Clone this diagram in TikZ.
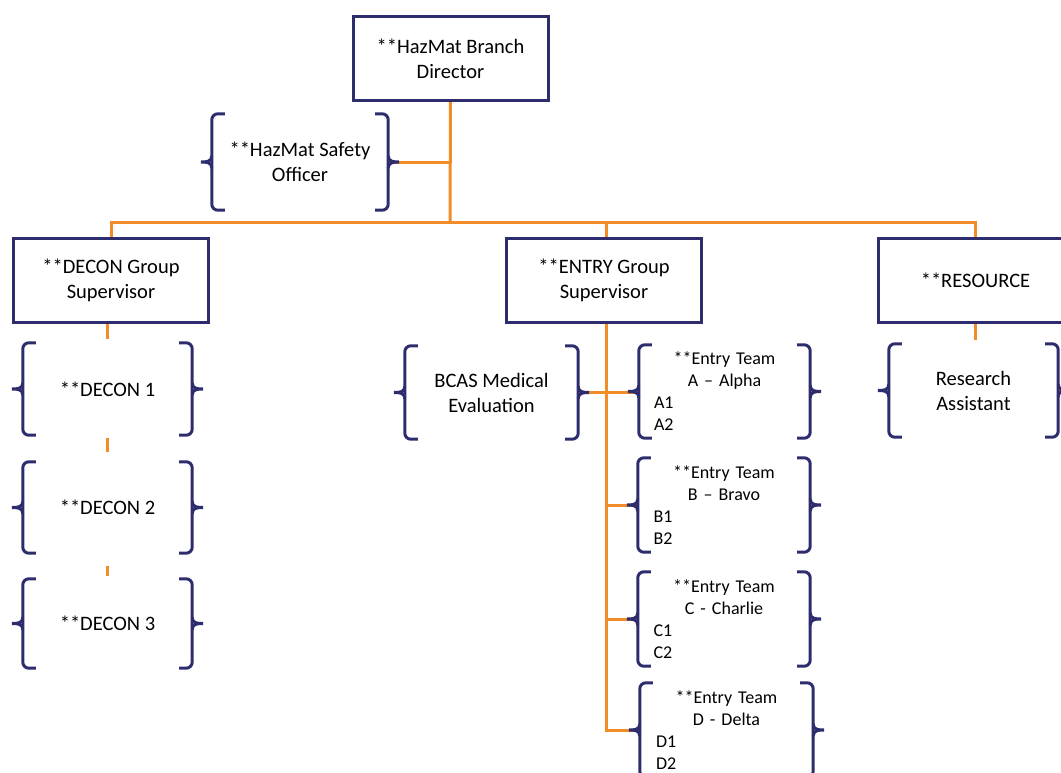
\documentclass[tikz,border=0pt]{standalone}
\usepackage{fontspec}
\setmainfont{Carlito}
\usetikzlibrary{calc,backgrounds}
\definecolor{navy}{RGB}{45,45,110}
\definecolor{org}{RGB}{241,140,40}
\tikzset{
  bigtxt/.style={font=\fontsize{20.5}{25}\selectfont},
  smtxt/.style={font=\fontsize{18}{22}\selectfont},
  ubox/.style={draw=navy, line width=3pt, fill=white, minimum width=195pt, minimum height=84pt, align=center, inner sep=0pt, bigtxt},
  brk/.style={inner sep=0pt, align=center, bigtxt},
  tbrk/.style={inner sep=0pt, smtxt, text width=141pt},
  bline/.style={draw=navy, line width=3pt},
  oline/.style={draw=org, line width=3pt},
}
\begin{document}
\begin{tikzpicture}[x=1pt,y=-1pt]
\useasboundingbox (0,0) rectangle (1061,772);
\clip (0,0) rectangle (1061,772);
\node[ubox] (dir) at (450.5,58.5) {**HazMat Branch\\Director};
\node[ubox] (dsup) at (111,280.5) {**DECON Group\\Supervisor};
\node[ubox] (esup) at (604,280.5) {**ENTRY Group\\Supervisor};
\node[ubox] (res) at (975.5,280.5) {**RESOURCE};
\node[brk, minimum width=176pt, minimum height=96pt] (so) at (300,162) {**HazMat Safety\\Officer};
\node[brk, minimum width=169pt, minimum height=92pt] (d1) at (107.5,389) {**DECON 1};
\node[brk, minimum width=169pt, minimum height=91pt] (d2) at (107.5,507.5) {**DECON 2};
\node[brk, minimum width=169pt, minimum height=89pt] (d3) at (107.5,623.5) {**DECON 3};
\node[brk, minimum width=173pt, minimum height=93pt] (bcas) at (491.5,392.5) {BCAS Medical\\Evaluation};
\node[brk, minimum width=169pt, minimum height=93pt] (ra) at (973.5,390.5) {Research\\Assistant};
\node[tbrk, minimum width=171pt, minimum height=93pt] (ta) at (724.5,391.5) {\centering **Entry Team\\A – Alpha\par\raggedright A1\\A2\par};
\node[tbrk, minimum width=172pt, minimum height=94pt] (tb) at (724,505) {\centering **Entry Team\\B – Bravo\par\raggedright B1\\B2\par};
\node[tbrk, minimum width=172pt, minimum height=94pt] (tc) at (724,619) {\centering **Entry Team\\C - Charlie\par\raggedright C1\\C2\par};
\node[tbrk, minimum width=173pt, minimum height=94pt] (td) at (726.5,730) {\centering **Entry Team\\D - Delta\par\raggedright D1\\D2\par};
\begin{scope}[on background layer]
  \coordinate (bus) at (450,222);
  \coordinate (ev) at ($(esup.south)+(2.5,0)$);
  \draw[oline] (dir.south) -- (bus);
  \draw[oline] (dsup.north) -- (dsup.north |- bus) -- (res.north |- bus) -- (res.north);
  \draw[oline] (ev |- esup.north) -- (ev |- bus);
  \draw[oline] (so.east) -- (so.east -| bus);
  \draw[oline] (d1.north |- dsup.south) -- ([yshift=4pt]d1.north);
  \draw[oline] ([yshift=-3pt]d1.south) -- ([yshift=10pt]d2.north);
  \draw[oline] ([yshift=-13pt]d2.south) -- ([yshift=3pt]d3.north);
  \draw[oline] (res.south) -- ++(0,16);
  \draw[oline] (ev) |- (td.west);
  \draw[oline] (bcas.east) -- (bcas.east -| ta.west);
  \draw[oline] (ev |- tb.west) -- (tb.west);
  \draw[oline] (ev |- tc.west) -- (tc.west);
\end{scope}
\foreach \n in {so,d1,d2,d3,bcas,ra,ta,tb,tc,td}{
  \draw[bline, rounded corners=6pt] ([xshift=13pt]\n.north west) -- (\n.north west) -- (\n.south west) -- ([xshift=13pt]\n.south west);
  \draw[bline] ([yshift=6pt]\n.west) .. controls (\n.west) and ([xshift=-6pt]\n.west) .. ([xshift=-11pt]\n.west)
               .. controls ([xshift=-6pt]\n.west) and (\n.west) .. ([yshift=-6pt]\n.west);
  \draw[bline, rounded corners=6pt] ([xshift=-13pt]\n.north east) -- (\n.north east) -- (\n.south east) -- ([xshift=-13pt]\n.south east);
  \draw[bline] ([yshift=6pt]\n.east) .. controls (\n.east) and ([xshift=6pt]\n.east) .. ([xshift=11pt]\n.east)
               .. controls ([xshift=6pt]\n.east) and (\n.east) .. ([yshift=-6pt]\n.east);
}
\end{tikzpicture}
\end{document}
